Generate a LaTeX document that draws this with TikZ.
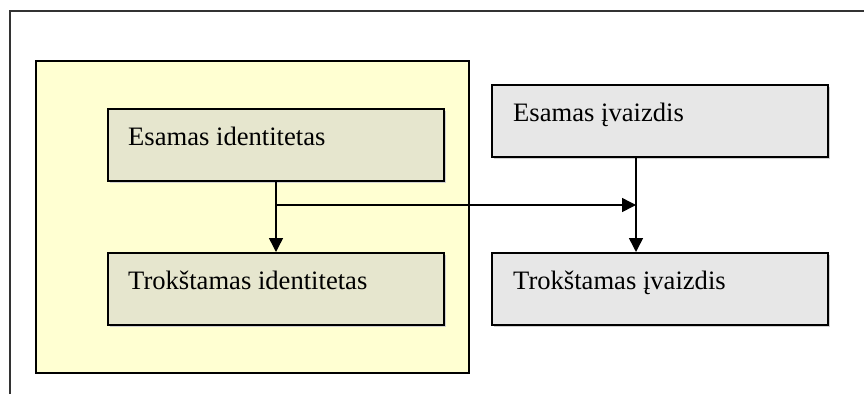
\documentclass[tikz,border=0pt]{standalone}
\usepackage{fontspec}
\setmainfont{Liberation Serif}
\usetikzlibrary{arrows.meta,shadows}

\definecolor{areayellow}{HTML}{FFFFD2}
\definecolor{idfill}{HTML}{E6E6CE}
\definecolor{imgfill}{HTML}{E7E7E7}
\definecolor{framegray}{HTML}{333333}

\tikzset{
  boxbase/.style={draw=black, line width=2pt, rectangle, inner sep=0pt,
    drop shadow={shadow xshift=1.5pt, shadow yshift=-1.5pt, fill=black!18, opacity=1}},
  idbox/.style={boxbase, fill=idfill, minimum width=336pt, minimum height=72pt},
  imgbox/.style={boxbase, fill=imgfill, minimum width=336pt, minimum height=72pt},
  area/.style={draw=black, line width=2pt, fill=areayellow, rectangle, inner sep=0pt,
    minimum width=433pt, minimum height=312pt},
  boxtext/.style={anchor=base west, inner sep=0pt,
    font=\fontsize{26.6}{30}\selectfont},
  link/.style={line width=1.5pt, -{Triangle[width=14pt,length=14pt]}},
  plainlink/.style={line width=1.5pt}
}

\begin{document}
\begin{tikzpicture}[x=1pt,y=-1pt]
  \useasboundingbox (0,0) rectangle (864,394);

  % outer frame (top and left edges)
  \draw[line width=2pt, framegray] (10,394) -- (10,11) -- (864,11);

  % identity area
  \node[area] (zone) at (252.5,217) {};

  % boxes
  \node[idbox] (ei) at (276,145) {};
  \node[idbox] (ti) at (276,289) {};
  \node[imgbox] (ev) at (660,121) {};
  \node[imgbox] (tv) at (660,289) {};

  % labels
  \node[boxtext] (eit) at (128,145) {Esamas identitetas};
  \node[boxtext] (tit) at (128,289) {Trokštamas identitetas};
  \node[boxtext] (evt) at (513,121) {Esamas įvaizdis};
  \node[boxtext] (tvt) at (513,289) {Trokštamas įvaizdis};

  % connectors
  \coordinate (split) at (276,205);
  \coordinate (join) at (636,205);
  \draw[link] (ei.south) -- (ti.north);
  \draw[link] (split) -- (join);
  \draw[link] (ev.south -| join) -- (tv.north -| join);
\end{tikzpicture}
\end{document}
